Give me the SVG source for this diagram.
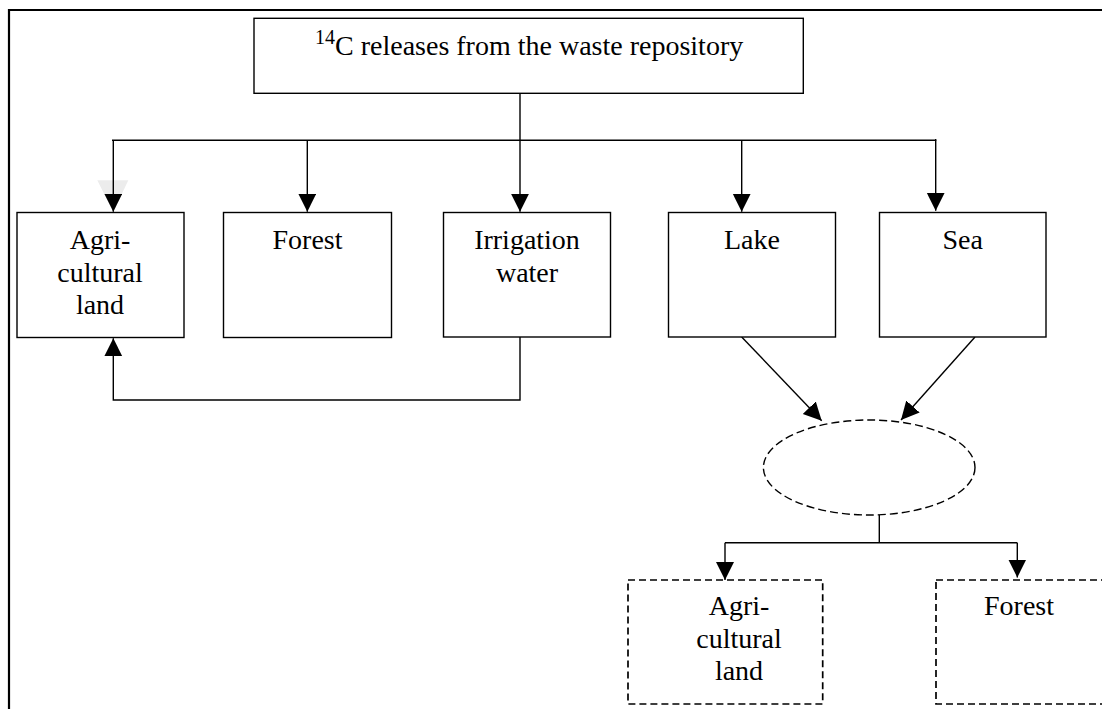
<svg xmlns="http://www.w3.org/2000/svg" width="1102" height="709" viewBox="0 0 1102 709">
<defs>
<marker id="arr" markerUnits="userSpaceOnUse" markerWidth="19" markerHeight="19" refX="18" refY="9" orient="auto" viewBox="0 0 19 19">
<path d="M0,0 L18,9 L0,18 z" fill="#000"/>
</marker>
<style>
.box{fill:#fff;stroke:#000;stroke-width:1.4}
.dbox{fill:none;stroke:#000;stroke-width:1.7;stroke-dasharray:7 4}
.lbl{font-family:"Liberation Serif","Times New Roman",serif;font-size:28px;fill:#000;text-anchor:middle}
.ln{fill:none;stroke:#000;stroke-width:1.4}
.arw{fill:none;stroke:#000;stroke-width:1.4;marker-end:url(#arr)}
</style>
</defs>
<rect width="1102" height="709" fill="#fff"/>
<g id="frame">
<path d="M9,711 L9,10 L1104,10" fill="none" stroke="#000" stroke-width="2.2"/>
</g>
<g id="ghost">
<polygon points="97.3,180.3 128.3,180.3 113.3,212" fill="#ececec"/>
</g>
<g id="connectors">
<path class="arw" d="M520,93.3 L520,211.7"/>
<path class="ln" d="M112,140.3 L936,140.3" stroke-width="1.9"/>
<path class="ln" d="M935.7,139 L935.7,141"/>
<path class="arw" d="M113.3,140.3 L113.3,211.7"/>
<path class="arw" d="M307.3,140.3 L307.3,211.7"/>
<path class="arw" d="M741.7,140.3 L741.7,211.7"/>
<path class="arw" d="M935.7,140.3 L935.7,210.7"/>
<path class="arw" d="M520,336.7 L520,400 L113.3,400 L113.3,338.3"/>
<path class="arw" d="M741.7,337 L821.7,420.7"/>
<path class="arw" d="M975,337 L901,420"/>
<path class="ln" d="M879.3,515 L879.3,542.7"/>
<path class="ln" d="M725,542.7 L1017.3,542.7"/>
<path class="arw" d="M725,542.7 L725,580"/>
<path class="arw" d="M1017.3,542.7 L1017.3,577.5"/>
</g>
<g id="source">
<rect class="box" x="254" y="18.3" width="549.3" height="75"/>
<text x="315" y="55" font-family="Liberation Serif,'Times New Roman',serif" font-size="28" fill="#000"><tspan font-size="20" dy="-11">14</tspan><tspan dy="11">C releases from the waste repository</tspan></text>
</g>
<g id="agri">
<rect class="box" x="17" y="212.5" width="167" height="125"/>
<text class="lbl" x="100" y="249">Agri-</text>
<text class="lbl" x="100" y="281.5">cultural</text>
<text class="lbl" x="100" y="314">land</text>
</g>
<g id="forest">
<rect class="box" x="223.5" y="212.5" width="168" height="125"/>
<text class="lbl" x="307.5" y="249">Forest</text>
</g>
<g id="irrigation">
<rect class="box" x="443.5" y="212.5" width="167" height="124.5"/>
<text class="lbl" x="527" y="248.5">Irrigation</text>
<text class="lbl" x="527" y="281.5">water</text>
</g>
<g id="lake">
<rect class="box" x="668.5" y="212.5" width="167" height="124.5"/>
<text class="lbl" x="752" y="249">Lake</text>
</g>
<g id="sea">
<rect class="box" x="879.5" y="212.5" width="166.5" height="124.5"/>
<text class="lbl" x="962.7" y="249">Sea</text>
</g>
<g id="ellipse">
<ellipse cx="869.2" cy="467.5" rx="105.8" ry="47.5" fill="none" stroke="#000" stroke-width="1.4" stroke-dasharray="8 4"/>
</g>
<g id="agri2">
<rect class="dbox" x="628" y="580" width="194.7" height="124"/>
<text class="lbl" x="739" y="615">Agri-</text>
<text class="lbl" x="739" y="647.5">cultural</text>
<text class="lbl" x="739" y="680">land</text>
</g>
<g id="forest2">
<rect class="dbox" x="936" y="580" width="172" height="124"/>
<text class="lbl" x="1019" y="615">Forest</text>
</g>
</svg>
